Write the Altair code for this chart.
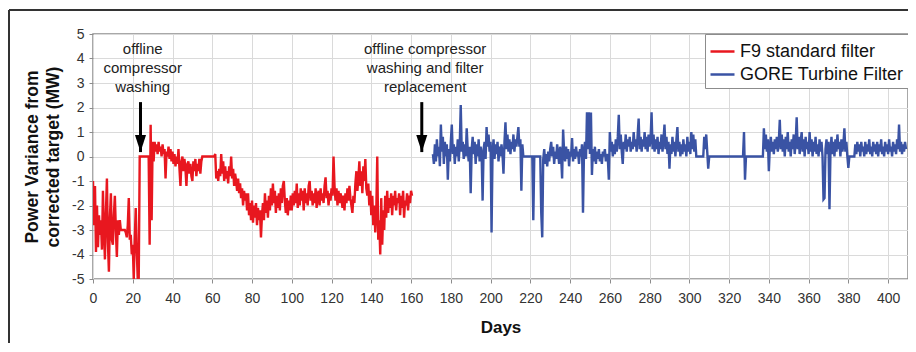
import altair as alt
import pandas as pd

# ---------------- data ----------------
SERIES = ["F9 standard filter", "GORE Turbine Filter"]
COLORS = ["#e8171f", "#3a53a4"]

STEP = 0.5          # sampling step in days
RED_START = 0.0
RED_VALUES = [
    -1.0, -2.8, -1.2, -3.9, -2.0, -3.7, -2.4, -3.2, -2.6, -3.8,
    -1.4, -3.0, -4.2, -2.3, -0.9, -3.5, -4.7, -2.5, -1.5, -3.4,
    -3.6, -2.4, -1.6, -3.0, -4.1, -2.6, -3.2, -2.6, -3.0, -3.0,
    -3.0, -3.0, -3.0, -3.1, -3.3, -2.8, -1.7, -3.4, -3.2, -4.0,
    -3.6, -5.0, -3.4, -2.1, -3.8, -5.0, -5.0, 0.0, 0.0, 0.0,
    0.0, 0.0, 0.0, 0.0, 0.0, 0.0, 0.0, -3.6, 1.3, -2.6,
    0.6, -0.2, 0.6, 0.2, 0.5, 0.1, 0.6, 0.2, 0.4, 0.0,
    0.5, 0.1, 0.3, -0.9, 0.2, 0.0, 0.4, -0.1, 0.3, -0.2,
    0.2, -0.3, 0.1, -0.4, 0.0, -0.3, 0.3, -0.5, -1.2, -0.2,
    0.0, -0.6, -0.1, -0.5, -1.2, -0.3, -0.2, -0.7, -0.3, -0.8,
    -1.0, -0.2, -0.6, -0.1, -0.8, -0.3, -0.6, -0.1, -0.7, -0.2,
    0.0, 0.0, 0.0, 0.0, 0.0, 0.0, 0.0, 0.0, 0.0, 0.0,
    0.0, 0.0, 0.0, 0.1, -0.9, -0.6, -1.0, -0.5, -0.8, 0.1,
    -0.7, -0.2, -1.0, -0.4, -0.9, -0.6, -1.1, -0.4, -0.8, 0.0,
    -0.9, -0.5, -1.2, -0.7, -1.0, -1.4, -0.9, -1.5, -1.1, -1.7,
    -1.3, -2.0, -1.4, -1.8, -1.5, -2.2, -1.5, -2.4, -1.9, -2.6,
    -1.8, -2.7, -2.0, -2.5, -1.9, -2.8, -2.1, -2.6, -2.2, -3.3,
    -2.4, -1.9, -2.6, -1.5, -2.3, -1.8, -2.5, -1.6, -2.2, -1.3,
    -2.0, -1.1, -1.9, -1.4, -2.3, -1.6, -2.1, -1.5, -2.2, -1.3,
    -1.9, -1.2, -1.0, -1.8, -2.3, -1.7, -2.4, -1.8, -2.2, -1.6,
    -2.2, -1.5, -2.0, -1.4, -1.9, -1.1, -2.1, -1.5, -2.0, -1.3,
    -1.8, -1.4, -2.2, -1.3, -1.9, -1.5, -2.0, -1.2, -1.0, -1.8,
    -1.4, -2.0, -1.5, -1.9, -1.3, -2.1, -1.6, -1.4, -2.0, -1.3,
    -1.8, -1.5, -1.9, -1.2, -0.85, -1.7, -1.4, -2.0, -1.5, -1.8,
    -1.3, -1.6, 0.0, -1.2, -1.8, -1.3, -2.0, -1.4, -1.9, -1.5,
    -1.7, -2.1, -1.6, -2.2, -1.5, -1.9, -1.3, -1.8, -1.2, -1.7,
    -2.0, -2.3, -1.6, -1.9, -1.1, -0.6, -1.4, -0.9, -0.2, -1.2,
    -0.6, -1.5, -0.4, -1.0, -0.1, -1.3, -1.6, -1.1, -2.0, -1.4,
    -2.4, -1.6, -2.8, -2.0, -3.1, -2.3, 0.0, -3.4, -2.6, -4.0,
    -1.7, -3.6, -2.2, -3.0, -1.6, -2.5, -1.4, -2.3, -1.7, -2.1,
    -1.5, -2.4, -1.6, -2.0, -1.4, -2.2, -1.7, -1.9, -1.5, -2.4,
    -1.6, -2.1, -1.4, -2.5, -1.8, -2.0, -1.5, -2.2, -1.6, -1.9,
    -1.4, -1.6,
]

BLUE_START = 171.0
BLUE_VALUES = [
    0.1, -0.3, 0.5, -0.2, 0.7, 0.0, 0.4, -0.4, 1.3, 0.2,
    0.8, -0.3, 0.6, 0.0, 0.5, -0.95, 0.3, -0.2, 0.6, 1.3,
    0.1, 0.5, -0.3, 0.4, 0.0, 0.7, -0.2, 0.5, 2.1, 0.2,
    0.6, -0.1, 0.5, 0.0, 1.15, 0.3, -0.2, 0.4, -1.5, 0.3,
    0.8, 0.1, 0.6, -0.3, 0.5, 0.0, 0.7, -0.2, 0.4, 0.1,
    -1.8, 0.3, 0.6, -0.1, 1.2, 0.4, 0.9, 0.2, 0.6, -3.1,
    0.2, 0.7, -0.1, 0.5, 0.1, 0.6, -0.2, 0.4, 0.0, 0.5,
    0.1, -0.7, 0.6, 1.4, 0.3, 0.9, 0.2, 0.7, 0.1, 0.6,
    0.3, 0.9, 0.2, 0.7, 0.4, 0.8, 1.2, 0.4, 0.7, -1.4,
    0.5, 0.0, 0.0, 0.0, 0.0, 0.0, 0.0, 0.0, 0.0, 0.0,
    0.0, -2.6, 0.0, 0.0, 0.0, 0.0, 0.0, 0.0, 0.0, -2.3,
    -3.3, -0.1, 0.3, -0.3, 0.1, -0.4, 0.2, -0.2, 0.3, 0.6,
    0.0, 0.4, -0.3, 0.2, -0.1, 0.5, 0.1, -0.3, 0.4, 0.0,
    -0.9, 1.1, 0.2, -0.2, 0.4, -0.1, 0.3, -0.4, 0.2, 0.0,
    0.75, -0.2, 0.3, -0.1, 0.4, 0.0, 0.2, -0.3, 0.3, 0.0,
    0.5, -2.3, 0.2, 0.6, -0.1, 1.8, 0.3, 1.8, 0.1, 1.8,
    -0.75, 0.3, -0.2, 0.4, -0.3, 0.2, -0.1, 0.3, -0.2, 0.1,
    -0.3, 0.2, 0.0, 0.3, -0.2, 0.1, -0.1, -0.95, 1.0, 0.2,
    0.6, 0.0, 0.5, 0.1, 0.7, 0.2, 0.8, 1.7, 0.3, 0.9,
    0.2, -0.3, 0.6, 0.3, 0.9, 0.2, 0.7, 0.4, 0.8, 0.2,
    0.6, 0.3, 1.0, 0.4, 0.7, 0.2, 0.9, 1.55, 0.3, 0.8,
    0.2, 0.7, 0.4, 1.0, 0.3, 0.8, 0.2, 0.9, 0.4, 0.7,
    1.8, 0.3, 0.9, 0.2, 0.7, 0.3, 0.8, 0.1, 0.6, 0.3,
    0.9, 0.2, 0.7, 1.3, 0.3, 0.8, 0.1, 0.6, -0.5, 0.5,
    0.1, 0.8, 0.2, 0.6, 0.0, 0.7, 1.2, 0.2, 0.6, 0.0,
    0.5, 0.1, 0.7, 0.2, 0.5, 0.0, 0.8, 0.2, 0.6, 0.1,
    1.0, 0.3, 0.9, 0.2, 0.7, 0.0, 0.0, 0.0, 0.0, 0.0,
    0.0, 0.0, 0.0, 0.8, 0.3, 0.9, 0.2, -0.5, 0.0, 0.0,
    0.0, 0.0, 0.0, 0.0, 0.0, 0.0, 0.0, 0.0, 0.0, 0.0,
    0.0, 0.0, 0.0, 0.0, 0.0, 0.0, 0.0, 0.0, 0.0, 0.0,
    0.0, 0.0, 0.0, 0.0, 0.0, 0.0, 0.0, 0.0, 0.0, 0.0,
    0.0, 0.0, 0.0, 1.0, -0.95, 0.0, 0.0, 0.0, 0.0, 0.0,
    0.0, 0.0, 0.0, 0.0, 0.0, 0.0, 0.0, 0.0, 0.0, 0.0,
    0.0, 0.0, 0.0, 1.15, 0.3, 0.9, 0.2, 0.7, -0.6, 0.4,
    0.8, 0.2, 0.6, 0.1, 0.7, 0.3, 0.8, 0.2, 0.6, 1.5,
    0.3, 0.9, 0.2, 0.7, 0.0, 0.8, 0.3, 1.0, 0.2, 0.6,
    0.0, 0.7, 0.3, 0.9, 0.1, 0.6, 1.6, 0.3, 0.8, 0.1,
    0.6, 1.0, 0.2, 0.7, 0.0, 0.8, 0.3, 0.6, 0.1, 1.0,
    0.2, 0.7, 0.0, 0.6, 0.2, 0.8, 0.1, 0.5, 0.0, 0.7,
    0.2, 0.6, 0.0, -1.75, -1.7, 0.3, 0.7, 0.1, 0.6, -2.15,
    0.2, 0.8, 0.1, 0.6, 0.0, 0.7, 0.2, 0.9, 0.3, 0.6,
    0.0, 0.7, 0.2, 0.5, 1.15, 0.2, 0.6, 0.0, -0.47, 0.0,
    0.0, 0.0, 0.0, 0.0, 0.0, 0.5, 0.1, 0.6, 0.2, 0.5,
    0.0, 0.6, 0.2, 0.4, 0.0, 0.6, 0.1, 0.5, 0.2, 0.7,
    0.1, 0.4, 0.0, 0.6, 0.2, 0.5, 0.1, 0.6, 0.0, 0.5,
    0.2, 0.7, 0.1, 0.4, 0.0, 0.6, 0.2, 0.5, 0.1, 0.7,
    0.2, 0.4, 0.0, 0.6, 0.2, 0.5, 0.1, 0.7, 0.3, 1.3,
    0.2, 0.6, 0.1, 0.5, 0.2, 0.6, 0.3,
]

X_TICKS = list(range(0, 401, 20))
Y_TICKS = list(range(-5, 6))

ARROW_DAYS = [23.9, 165.4]
ARROW_TAIL = [2.22, 2.22]
ARROW_TIP = [0.18, 0.18]

# y of the first text line
ANNOT_DAYS = [25.0, 167.1]
ANNOT_Y = [4.39, 4.39]
ANNOT_TEXT = ["offline\ncompressor\nwashing",
              "offline compressor\nwashing and filter\nreplacement"]

Y_TITLE = ["Power Variance from", "corrected target (MW)"]
X_TITLE = "Days"

# ---------------- build tables ----------------
rows = []
for i, v in enumerate(RED_VALUES):
    rows.append({"day": RED_START + i * STEP, "value": v, "series": SERIES[0]})
for i, v in enumerate(BLUE_VALUES):
    rows.append({"day": BLUE_START + i * STEP, "value": v, "series": SERIES[1]})
df = pd.DataFrame(rows)

arrows = pd.DataFrame({"day": ARROW_DAYS, "value": ARROW_TAIL, "value2": ARROW_TIP})
heads = pd.DataFrame({"day": ARROW_DAYS, "value": ARROW_TIP})
annots = pd.DataFrame({"day": ANNOT_DAYS, "value": ANNOT_Y, "label": ANNOT_TEXT})

FONT = "Liberation Sans"
W, H = 815, 245

x_scale = alt.Scale(domain=[0, 410], nice=False, zero=False)
y_scale = alt.Scale(domain=[-5, 5], nice=False)

x_axis = alt.Axis(values=X_TICKS, title=X_TITLE, titleFontSize=17, titleFontWeight="bold",
                  titlePadding=14, labelFontSize=14, labelPadding=8, tickSize=4,
                  labelFlush=False, labelOverlap=False)
y_axis = alt.Axis(values=Y_TICKS, title=Y_TITLE, labelExpr="'' + datum.value",
                  titleFontSize=17.5, titleFontWeight="bold", titleLineHeight=21,
                  titleAngle=270, titleX=-60.5, titleY=122.5, titleAlign="center",
                  titleBaseline="middle", labelFontSize=14, labelPadding=5, tickSize=4,
                  labelFlush=False, labelOverlap=False)

X = alt.X("day:Q", scale=x_scale, axis=x_axis)
Y = alt.Y("value:Q", scale=y_scale, axis=y_axis)

lines = alt.Chart(df).mark_line(strokeWidth=2.4, clip=True).encode(
    x=X, y=Y,
    color=alt.Color("series:N", scale=alt.Scale(domain=SERIES, range=COLORS),
                    legend=alt.Legend(title=None, orient="top-right", offset=0,
                                      labelFontSize=18, labelFont=FONT, labelColor="#111",
                                      labelLimit=300,
                                      symbolType="stroke", symbolSize=576,
                                      symbolStrokeWidth=2.5, labelOffset=4,
                                      padding=4, rowPadding=0,
                                      strokeColor="#8c8c8c", fillColor="white")),
)

shafts = alt.Chart(arrows).mark_rule(strokeWidth=3, color="black").encode(
    x=X, y=Y, y2="value2:Q")

tips = alt.Chart(heads).mark_point(shape="M-0.65,-2L0.65,-2L0,0Z", size=289,
                                   filled=True, color="black", opacity=1).encode(x=X, y=Y)

labels = alt.Chart(annots).mark_text(lineBreak="\n", fontSize=15, lineHeight=19, font=FONT,
                                     align="center", baseline="middle", color="#222").encode(
    x=X, y=Y, text="label:N")

frame_data = alt.Data(values=[{"k": 0}])
frame_top = alt.Chart(frame_data).mark_rule(color="#333", strokeWidth=2).encode(
    x=alt.value(-84), x2=alt.value(830), y=alt.value(-24))
frame_left = alt.Chart(frame_data).mark_rule(color="#333", strokeWidth=2).encode(
    x=alt.value(-84), y=alt.value(-24), y2=alt.value(330))

chart = alt.layer(lines, shafts, tips, labels, frame_top, frame_left).properties(
    width=W, height=H,
    autosize=alt.AutoSizeParams(type="none"),
    padding={"left": 85, "top": 26, "right": 0, "bottom": 64},
    background="white",
).configure_view(
    stroke="#8c8c8c", strokeWidth=1.5
).configure_axis(
    grid=True, gridColor="#dadada", gridWidth=1, domain=False,
    tickColor="#8c8c8c", labelColor="#333", titleColor="#111",
    labelFont=FONT, titleFont=FONT,
)

chart.save("out.html", embed_options={"renderer": "svg", "actions": False})
